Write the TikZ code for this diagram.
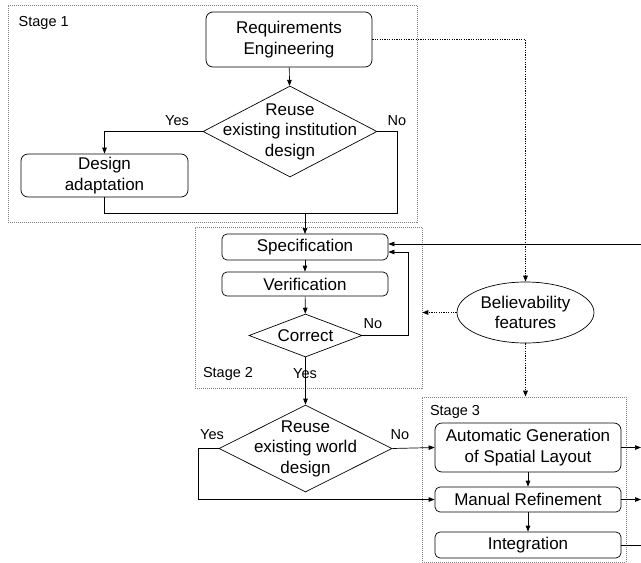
\documentclass[tikz,border=0pt]{standalone}
\usepackage{fontspec}
\setmainfont{Liberation Sans}
\usepackage{tikz}
\usetikzlibrary{arrows.meta, positioning, calc, shapes.geometric}

\begin{document}
\begin{tikzpicture}[x=1pt, y=-1pt, line width=0.7pt,
    font=\fontsize{17}{20.5}\selectfont,
    box/.style={draw, rounded corners=7pt, inner sep=0pt, align=center},
    decision/.style={draw, diamond, inner sep=0pt},
    stagebox/.style={draw=gray, line width=0.6pt, dash pattern=on 1pt off 1pt, inner sep=0pt},
    small/.style={font=\fontsize{14.5}{17}\selectfont},
    arr/.style={-{Triangle[length=6pt,width=4.5pt]}},
    dots/.style={line width=1.4pt, dash pattern=on 1.2pt off 1.2pt}]
    \useasboundingbox (0,0) rectangle (641,563);

    % Stages
    \node[stagebox, minimum width=409, minimum height=217] (stageone) at (212.5,113.5) {};
    \node[stagebox, minimum width=227, minimum height=161] (stagetwo) at (308.5,307.5) {};
    \node[stagebox, minimum width=204, minimum height=165] (stagethree) at (524,479.5) {};
    \node[small, anchor=west] (stageonelbl) at (15,23) {Stage 1};
    \node[small] (stagetwolbl) at (228,374) {Stage 2};
    \node[small] (stagethreelbl) at (455,412) {Stage 3};

    % Stage 1
    \node[box, minimum width=166, minimum height=55] (req) at (289,39.5) {Requirements\\Engineering};
    \node[decision, minimum width=174, minimum height=91] (reuseinst) at (290,131.5) {};
    \node[align=center] (reuseinsttxt) at (reuseinst) {Reuse\\existing institution\\design};
    \node[box, minimum width=167, minimum height=43] (adapt) at (104.5,175.5) {Design\\adaptation};
    \node[small] (instyes) at (177,121) {Yes};
    \node[small] (instno) at (397,121) {No};
    \coordinate (instcorner) at (397,213);
    \coordinate (instjoin) at (305,213);
    \draw[arr] (req) -- (reuseinst);
    \draw[arr] (reuseinst.west) -| (adapt.north);
    \draw (reuseinst.east) -| (instcorner) -- (adapt.south |- instcorner) -- (adapt.south);
    \draw[arr] (instjoin) -- (305,234);

    % Stage 2
    \node[box, rounded corners=5pt, minimum width=166, minimum height=26] (spec) at (305,247) {Specification};
    \node[box, rounded corners=5pt, minimum width=166, minimum height=24] (verif) at (305,284) {Verification};
    \node[decision, minimum width=113, minimum height=43] (correct) at (305.5,335.5) {};
    \node (correcttxt) at (correct) {Correct};
    \node[small] (correctno) at (373,324) {No};
    \node[small] (correctyes) at (305,374) {Yes};
    \coordinate (loopback) at (408,252);
    \coordinate (fromright) at (641,244);
    \draw[arr] (spec) -- (verif);
    \draw[arr] (verif) -- (correct);
    \draw[arr] (correct.east) -| (loopback) -- (spec.east |- loopback);
    \draw[arr] (fromright) -- (spec.east |- fromright);

    % Believability features
    \node[draw, ellipse, minimum width=137, minimum height=61, inner sep=0pt, align=center] (belief) at (525.5,312.5) {Believability\\features};
    \draw[dots, arr] (req.east) -| (belief.north);
    \draw[dots, arr] (belief.west) -- (stagetwo.east |- belief.west);
    \draw[dots, arr] (belief.south) -- (belief.south |- stagethree.north);

    % World design
    \node[decision, minimum width=173, minimum height=87] (reuseworld) at (305.5,448.5) {};
    \node[align=center] (reuseworldtxt) at (reuseworld) {Reuse\\existing world\\design};
    \node[small] (worldyes) at (212,435) {Yes};
    \node[small] (worldno) at (400,435) {No};
    \draw[arr] (correct.south) -- (reuseworld.north);

    % Stage 3
    \node[box, minimum width=186, minimum height=49] (autogen) at (528,447.5) {Automatic Generation\\of Spatial Layout};
    \node[box, rounded corners=5pt, minimum width=186, minimum height=25] (manual) at (528,499.5) {Manual Refinement};
    \node[box, rounded corners=5pt, minimum width=186, minimum height=26] (integ) at (528,545) {Integration};
    \coordinate (worldcorner) at (198,499.5);
    \draw[arr] (reuseworld.east) -- (autogen.west);
    \draw[arr] (reuseworld.west) -| (worldcorner) -- (manual.west);
    \draw[arr] (autogen) -- (manual);
    \draw[arr] (manual) -- (integ);

    % Outgoing
    \coordinate (outgen) at (641,447.5);
    \coordinate (outmanual) at (641,499.5);
    \coordinate (outinteg) at (641,545);
    \draw[arr] (autogen.east) -- (outgen);
    \draw[arr] (manual.east) -- (outmanual);
    \draw (integ.east) -- (outinteg);
\end{tikzpicture}
\end{document}
